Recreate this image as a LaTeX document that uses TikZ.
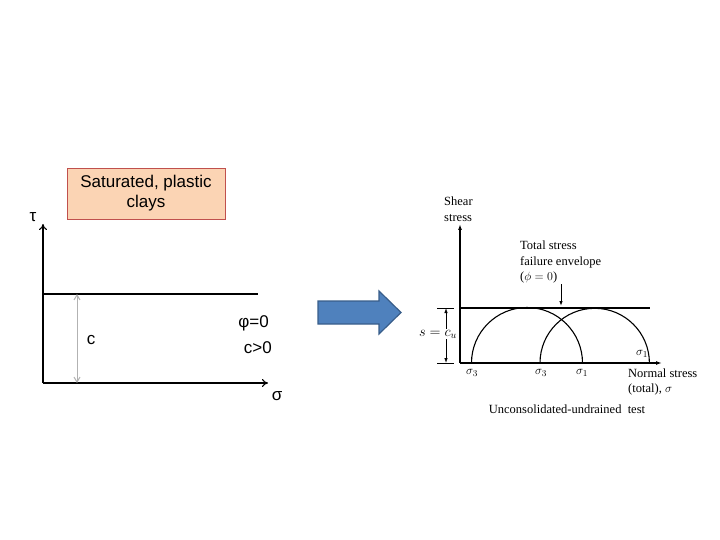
\documentclass[tikz,border=0pt]{standalone}
\usepackage{fontspec}
\setmainfont{Liberation Serif}
\newfontfamily\arialfont{Liberation Sans}
\usetikzlibrary{arrows.meta}
\definecolor{peach}{HTML}{FBD4B4}
\definecolor{boxred}{HTML}{C0504D}
\definecolor{arrowblue}{HTML}{4F81BD}
\definecolor{arrowedge}{HTML}{385D8A}

\tikzset{
  axis/.style={black, line width=1.1pt, -{To[length=6pt,width=8pt]}},
  plotline/.style={black, line width=1.1pt},
  sanslabel/.style={font=\arialfont\fontsize{17}{20}\selectfont, text=black, inner sep=0pt},
  scanaxis/.style={black, line width=1.6pt, -{Latex[length=6pt,width=4pt]}},
  scanline/.style={black, line width=1.8pt},
  scanlabel/.style={font=\fontsize{12.5}{15.5}\selectfont, text=black, inner sep=0pt, align=left},
  mohr/.style={black, line width=1.1pt},
}

\begin{document}
\begin{tikzpicture}[x=1pt,y=-1pt]
\useasboundingbox (0,0) rectangle (720,540);

% left: saturated clay envelope
\node[sanslabel, draw=boxred, fill=peach, line width=0.8pt, align=center,
      minimum width=158pt, minimum height=51pt] (clays) at (146,193.5) {Saturated, plastic\\clays};

\coordinate (O1) at (43,383);
\draw[axis] (O1) -- (43,224) coordinate (tauend);
\draw[axis] (O1) -- (268,383) coordinate (sigend);
\node[sanslabel] (tau) at (33,217) {τ};
\node[sanslabel] (sigma) at (277,396) {σ};

\draw[plotline] (43,294) coordinate (envL) -- (258,294) coordinate (envR);
\coordinate (cTop) at (77,294);
\coordinate (cBot) at (77,383);
\draw[gray!60, line width=1pt, {Straight Barb[length=5pt,width=6pt]}-{Straight Barb[length=5pt,width=6pt]}] (cTop) -- (cBot);
\node[sanslabel] (c) at (91,340) {c};
\node[sanslabel, anchor=east] (phi) at (269,323) {φ=0};
\node[sanslabel, anchor=east] (cpos) at (272,348) {c>0};

% block arrow
\draw[fill=arrowblue, draw=arrowedge, line width=1.2pt, line join=miter]
  (318,301) -- (379,301) -- (379,291) -- (401,312.5) -- (379,334) -- (379,324) -- (318,324) -- cycle;

% right: UU test, Mohr circles
\coordinate (O2) at (460,363);
\draw[scanaxis] (O2) -- (460,224) coordinate (shearend);
\draw[scanaxis] (O2) -- (662,363) coordinate (normalend);
\draw[scanline] (459,308) coordinate (cuL) -- (650,308) coordinate (cuR);
\draw[black, line width=0.8pt] (437,308) -- (454,308);
\draw[black, line width=0.8pt] (437,363) -- (454,363);
\draw[black, line width=0.8pt, {Latex[length=5pt,width=3.5pt]}-{Latex[length=5pt,width=3.5pt]}]
  (446,308) -- (446,363);
\node[scanlabel, font=\fontsize{14}{16}\selectfont, fill=white, inner sep=1pt] (cu) at (438,334) {$s = c_u$};

\draw[mohr] (471.5,363) arc[start angle=180, end angle=0, radius=55.5pt];
\draw[mohr] (540,363) arc[start angle=180, end angle=0, radius=54.7pt];

\node[scanlabel, anchor=west] (shear) at (444,209) {Shear\\stress};
\node[scanlabel, anchor=west] (total) at (520,262) {Total stress\\failure envelope\\($\phi = 0$)};
\coordinate (envtip) at (561,306);
\draw[black, line width=0.9pt, -{Latex[length=5pt,width=3.5pt]}] (561,284) -- (envtip);

\node[scanlabel] (s3a) at (472,373) {$\sigma_3$};
\node[scanlabel] (s3b) at (541,373) {$\sigma_3$};
\node[scanlabel] (s1a) at (582,373) {$\sigma_1$};
\node[scanlabel] (s1b) at (642,354) {$\sigma_1$};
\node[scanlabel, anchor=west] (normal) at (628,382) {Normal stress\\(total), $\sigma$};
\node[scanlabel] (uu) at (567,409) {Unconsolidated-undrained\ \ test};

\end{tikzpicture}
\end{document}
